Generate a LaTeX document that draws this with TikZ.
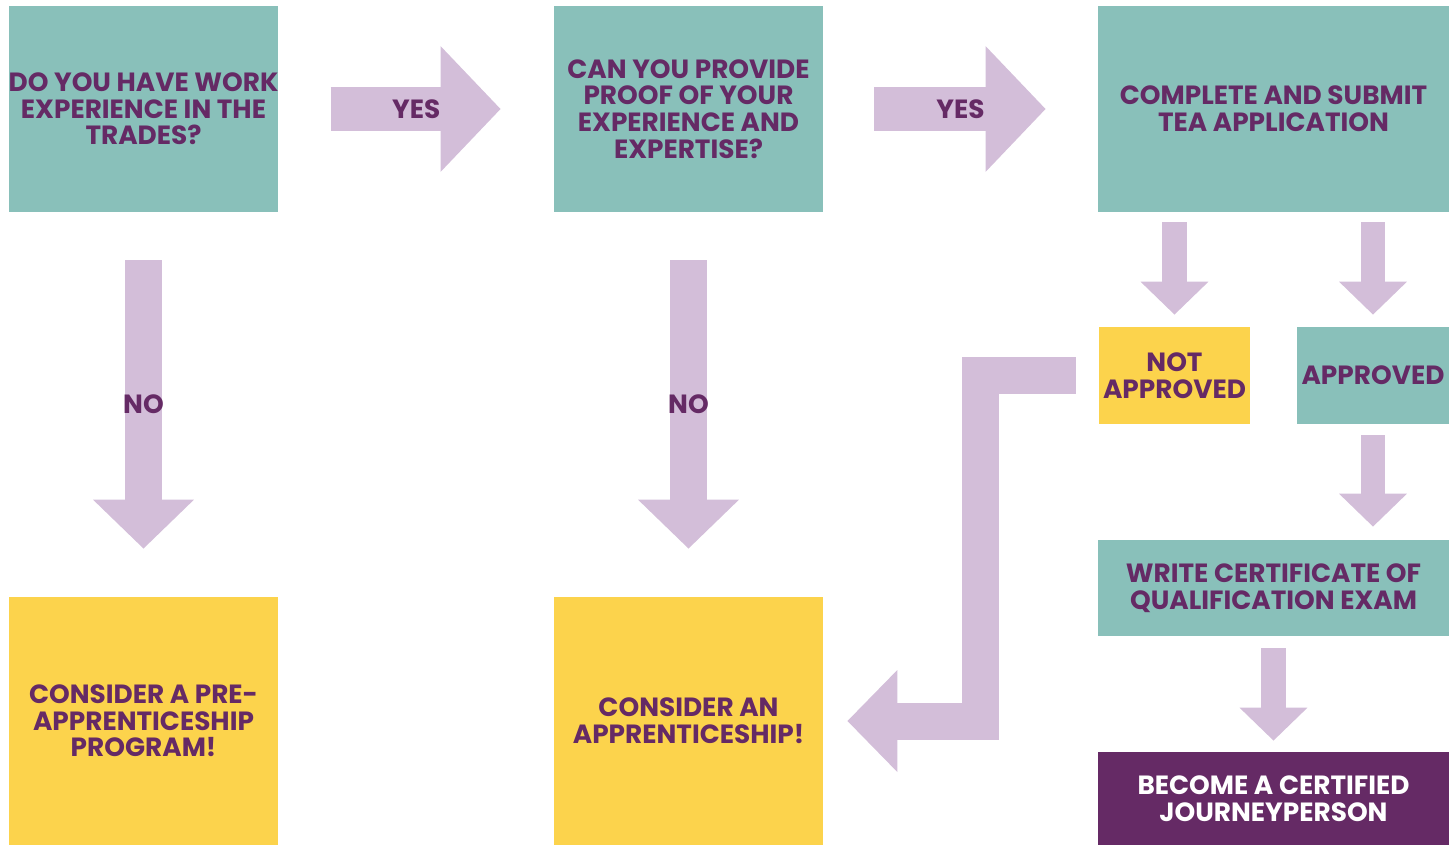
\documentclass[tikz,border=0pt]{standalone}
\usepackage{fontspec}
\setmainfont{Poppins}
\usetikzlibrary{arrows.meta}
\definecolor{boxteal}{HTML}{89C0BA}
\definecolor{boxyellow}{HTML}{FCD34C}
\definecolor{arrowlav}{HTML}{D3BED9}
\definecolor{darkplum}{HTML}{652A65}
\begin{document}
\begin{tikzpicture}[x=0.02cm,y=-0.02cm,
  box/.style={rectangle,inner sep=0pt,align=center,text=darkplum,
    font=\bfseries\fontsize{15}{15.2}\selectfont},
  tealbox/.style={box,fill=boxteal},
  yellowbox/.style={box,fill=boxyellow},
  lbl/.style={text=darkplum,font=\bfseries\fontsize{15}{15.2}\selectfont},
  fatarrow/.style n args={3}{draw=arrowlav,line width=#1,
    -{Triangle[length=#2,width=#3,fill=arrowlav]}},
  yesarrow/.style={fatarrow={0.9cm}{1.2cm}{2.44cm}},
  noarrow/.style={fatarrow={0.74cm}{0.98cm}{1.96cm}},
  smallarrow/.style={fatarrow={0.49cm}{0.66cm}{1.32cm}}]
  \useasboundingbox (0,0) rectangle (1455,845);
  \node[tealbox,minimum width=5.38cm,minimum height=4.12cm] (q1) at (143.5,109) {DO YOU HAVE WORK\\EXPERIENCE IN THE\\TRADES?};
  \node[tealbox,minimum width=5.38cm,minimum height=4.12cm] (q2) at (688.5,109) {CAN YOU PROVIDE\\PROOF OF YOUR\\EXPERIENCE AND\\EXPERTISE?};
  \node[tealbox,minimum width=7.02cm,minimum height=4.12cm] (q3) at (1273.5,109) {COMPLETE AND SUBMIT\\TEA APPLICATION};
  \node[yellowbox,minimum width=3.02cm,minimum height=1.94cm] (nap) at (1174.5,375.5) {NOT\\APPROVED};
  \node[tealbox,minimum width=3.04cm,minimum height=1.94cm] (app) at (1373,375.5) {APPROVED};
  \node[tealbox,minimum width=7.02cm,minimum height=1.92cm] (wr) at (1273.5,588) {WRITE CERTIFICATE OF\\QUALIFICATION EXAM};
  \node[box,fill=darkplum,text=white,minimum width=7.02cm,minimum height=1.86cm] (bec) at (1273.5,798.5) {BECOME A CERTIFIED\\JOURNEYPERSON};
  \node[yellowbox,minimum width=5.38cm,minimum height=4.96cm] (pre) at (143.5,721) {CONSIDER A PRE-\\APPRENTICESHIP\\PROGRAM!};
  \node[yellowbox,minimum width=5.38cm,minimum height=4.96cm] (apr) at (688.5,721) {CONSIDER AN\\APPRENTICESHIP!};
  \draw[yesarrow,shorten <=1.04cm,shorten >=1.06cm] (q1) -- node[lbl] {YES} (q2);
  \draw[yesarrow,shorten <=1.02cm,shorten >=1.04cm] (q2) -- node[lbl] {YES} (q3);
  \draw[noarrow,shorten <=0.96cm,shorten >=0.96cm] (q1) -- node[lbl] {NO} (pre);
  \draw[noarrow,shorten <=0.96cm,shorten >=0.96cm] (q2) -- node[lbl] {NO} (apr);
  \draw[smallarrow,shorten <=0.2cm,shorten >=0.24cm] (q3.south -| nap.north) -- (nap.north);
  \draw[smallarrow,shorten <=0.2cm,shorten >=0.24cm] (q3.south -| app.north) -- (app.north);
  \draw[smallarrow,shorten <=0.22cm,shorten >=0.26cm] (app.south) -- (app.south |- wr.north);
  \draw[smallarrow,shorten <=0.24cm,shorten >=0.22cm] (wr) -- (bec);
  \draw[fatarrow={0.74cm}{1cm}{1.98cm},shorten <=0.46cm,shorten >=0.48cm] (nap.west) -- ++(-118,0) |- (apr.east);
\end{tikzpicture}
\end{document}
